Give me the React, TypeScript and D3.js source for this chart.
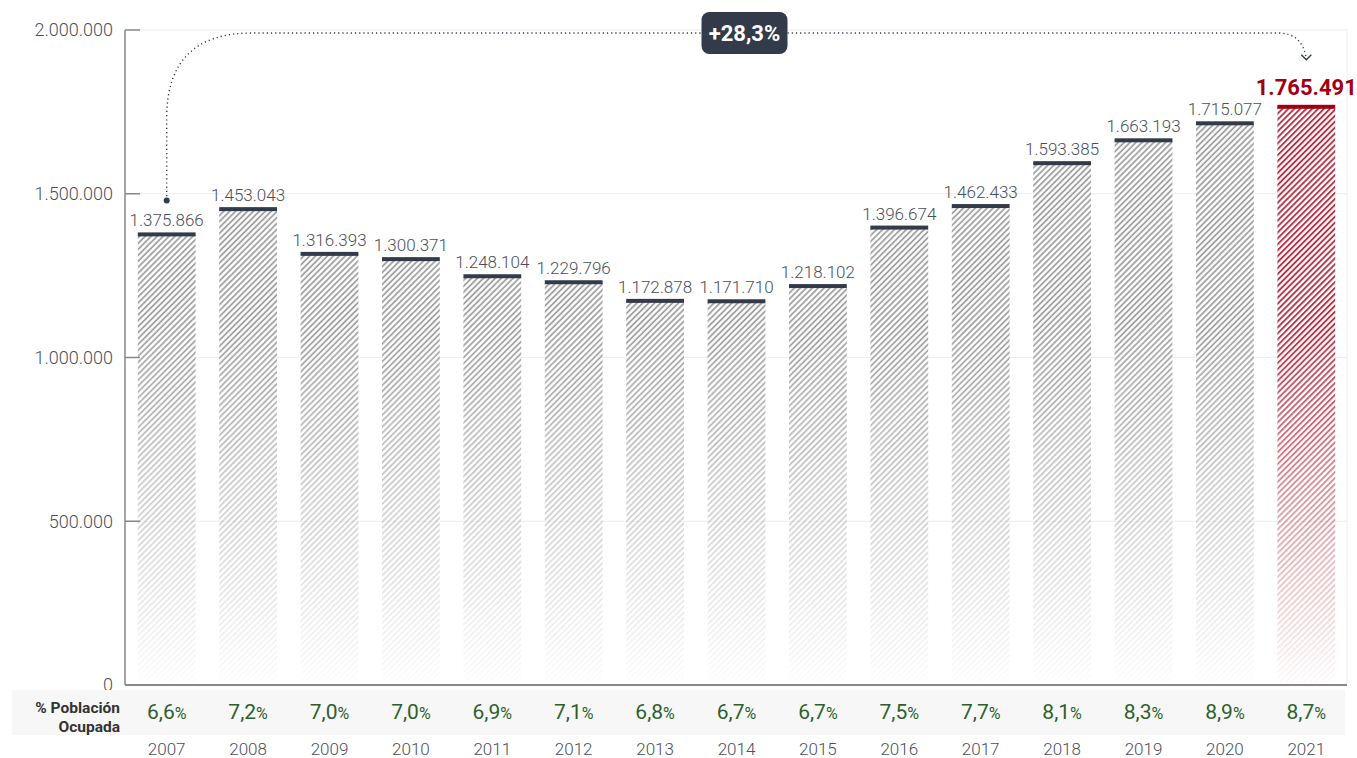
import React from "react";
import * as d3 from "d3";

const years = ["2007", "2008", "2009", "2010", "2011", "2012", "2013", "2014", "2015", "2016", "2017", "2018", "2019", "2020", "2021"];
const workers = [1375866, 1453043, 1316393, 1300371, 1248104, 1229796, 1172878, 1171710, 1218102, 1396674, 1462433, 1593385, 1663193, 1715077, 1765491];
const shareOfEmployed = [6.6, 7.2, 7.0, 7.0, 6.9, 7.1, 6.8, 6.7, 6.7, 7.5, 7.7, 8.1, 8.3, 8.9, 8.7];
const yTicks = [0, 500000, 1000000, 1500000, 2000000];
const changeLabel = "+28,3%";

const W = 1357;
const H = 758;
const margin = { left: 125, right: 10, top: 30, bottom: 73 };

const es = d3.formatLocale({ decimal: ",", thousands: ".", grouping: [3], currency: ["", "€"] });
const fmtInt = es.format(",d");
const fmtPct = es.format(".1f");

const dark = "#333a4a";
const red = "#a00012";
const labelGray = "#4b505c";

export default function App() {
  const x = d3
    .scaleBand()
    .domain(years)
    .range([margin.left + 1, W - margin.right])
    .paddingInner(0.29)
    .paddingOuter(0.145);
  const y = d3
    .scaleLinear()
    .domain([0, 2000000])
    .range([H - margin.bottom, margin.top]);

  const x0 = margin.left;
  const x1 = W - margin.right;
  const last = years.length - 1;
  const cx = (i: number) => (x(years[i]) ?? 0) + x.bandwidth() / 2;

  // annotation path from first bar to last bar
  const sx = cx(0);
  const sy = y(workers[0]) - 34;
  const ty = y(2000000) + 3;
  const ex = cx(last);
  const ey = y(workers[last]) - 48;
  const arc = `M${sx},${sy} L${sx},${ty + 85} Q${sx},${ty} ${sx + 85},${ty} L${ex - 28},${ty} Q${ex - 4},${ty} ${ex},${ey}`;
  const boxX = cx(7) + 8;

  return (
    <svg width={W} height={H} style={{ position: "absolute", left: 0, top: 0, fontFamily: "Roboto" }}>
      <defs>
        <pattern id="hatchGray" width="4.2" height="4.2" patternUnits="userSpaceOnUse" patternTransform="rotate(45)">
          <rect width="4.2" height="4.2" fill="#fff" />
          <line x1="1" y1="0" x2="1" y2="4.2" stroke="#9b9b9b" strokeWidth="1.7" />
        </pattern>
        <pattern id="hatchRed" width="4.2" height="4.2" patternUnits="userSpaceOnUse" patternTransform="rotate(45)">
          <rect width="4.2" height="4.2" fill="#fff" />
          <line x1="1" y1="0" x2="1" y2="4.2" stroke="#b0283a" strokeWidth="1.8" />
        </pattern>
        <linearGradient id="fade" gradientUnits="userSpaceOnUse" x1="0" y1={y(1100000)} x2="0" y2={y(0) - 5}>
          <stop offset="0" stopColor="#fff" stopOpacity="1" />
          <stop offset="0.45" stopColor="#fff" stopOpacity="0.55" />
          <stop offset="1" stopColor="#fff" stopOpacity="0.03" />
        </linearGradient>
        <mask id="fadeMask" maskUnits="userSpaceOnUse" x="0" y="0" width={W} height={H}>
          <rect x="0" y="0" width={W} height={H} fill="url(#fade)" />
        </mask>
      </defs>

      {/* grid */}
      {yTicks.slice(1).map((t) => (
        <line key={t} x1={x0} x2={x1} y1={y(t)} y2={y(t)} stroke="#ececec" strokeWidth={1} />
      ))}
      <line x1={x1} x2={x1} y1={y(2000000)} y2={y(0)} stroke="#eeeeee" />

      {/* bars */}
      <g mask="url(#fadeMask)">
        {workers.map((v, i) => (
          <rect
            key={years[i]}
            x={x(years[i])}
            y={y(v)}
            width={x.bandwidth()}
            height={y(0) - 3 - y(v)}
            fill={i === last ? "url(#hatchRed)" : "url(#hatchGray)"}
          />
        ))}
      </g>
      {workers.map((v, i) => (
        <rect key={"cap" + i} x={x(years[i])} y={y(v) - 2} width={x.bandwidth()} height={4} fill={i === last ? red : dark} />
      ))}

      {/* value labels */}
      {workers.map((v, i) =>
        i === last ? (
          <text key={"v" + i} x={cx(i)} y={y(v) - 12} textAnchor="middle" fontSize={22} fontWeight={700} fill={red}>
            {fmtInt(v)}
          </text>
        ) : (
          <text key={"v" + i} x={cx(i)} y={y(v) - 8} textAnchor="middle" fontSize={17} fontWeight={300} fill={labelGray}>
            {fmtInt(v)}
          </text>
        )
      )}

      {/* axes */}
      <line x1={x0} x2={x0} y1={y(2000000)} y2={y(0)} stroke="#888" strokeWidth={1.5} />
      <line x1={x0} x2={x1} y1={y(0)} y2={y(0)} stroke="#888" strokeWidth={1.8} />
      {yTicks.map((t) => (
        <g key={"t" + t}>
          <line x1={x0} x2={x0 + 15} y1={y(t)} y2={y(t)} stroke="#888" strokeWidth={1.5} />
          <text x={x0 - 12} y={y(t)} dy="0.35em" textAnchor="end" fontSize={18} fontWeight={300} fill={labelGray}>
            {fmtInt(t)}
          </text>
        </g>
      ))}

      {/* annotation */}
      <path d={arc} fill="none" stroke={dark} strokeWidth={1.4} strokeDasharray="1.2 3" />
      <circle cx={sx} cy={sy} r={3} fill={dark} />
      <path d={`M${ex - 5},${ey - 4} L${ex},${ey + 1} L${ex + 5},${ey - 4}`} fill="none" stroke={dark} strokeWidth={1.4} />
      <rect x={boxX - 43} y={ty - 21} width={86} height={42} rx={8} fill={dark} />
      <text x={boxX} y={ty} dy="0.36em" textAnchor="middle" fontSize={22} fontWeight={700} fill="#fff">
        {changeLabel}
      </text>

      {/* bottom band */}
      <rect x={12} y={y(0) + 5} width={x1 - 14} height={45} fill="#f7f7f7" />
      <text x={120} y={713} textAnchor="end" fontSize={15.5} fontWeight={700} fill="#333">
        % Población
      </text>
      <text x={120} y={732} textAnchor="end" fontSize={15.5} fontWeight={700} fill="#333">
        Ocupada
      </text>
      {shareOfEmployed.map((p, i) => (
        <text key={"p" + i} x={cx(i)} y={719} textAnchor="middle" fill="#2d5f2e">
          <tspan fontSize={21}>{fmtPct(p)}</tspan>
          <tspan fontSize={16}>%</tspan>
        </text>
      ))}
      {years.map((yr, i) => (
        <text key={"y" + i} x={cx(i)} y={755} textAnchor="middle" fontSize={17} fontWeight={300} fill={labelGray}>
          {yr}
        </text>
      ))}
    </svg>
  );
}
